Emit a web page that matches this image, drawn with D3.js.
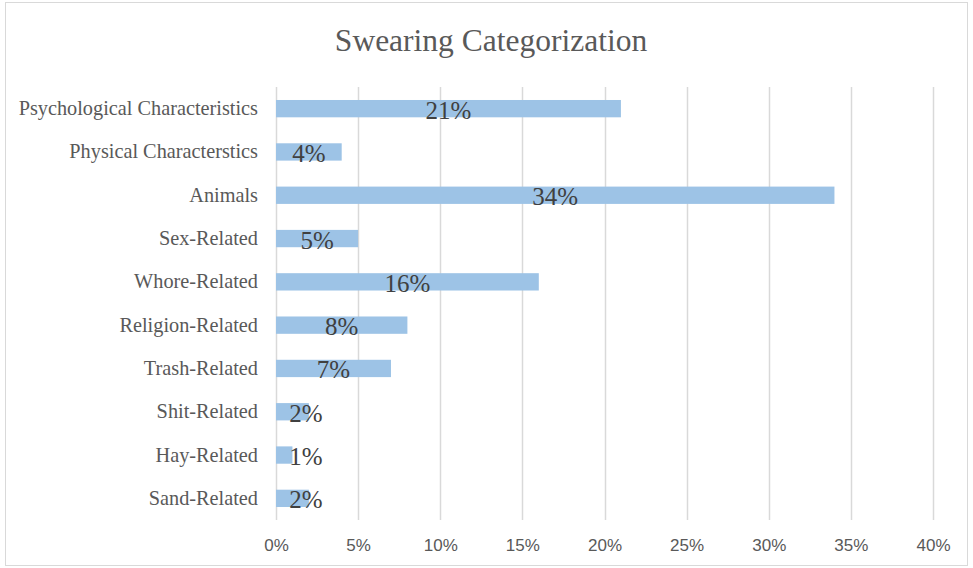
<!DOCTYPE html>
<html>
<head>
<meta charset="utf-8">
<script src="https://cdn.jsdelivr.net/npm/d3@7/dist/d3.min.js"></script>
<style>
    html, body { margin: 0; padding: 0; background: #fff; }
    svg { display: block; }
</style>
</head>
<body>
<div id="chart"></div>
<script>
"use strict";

// chart data, top to bottom as drawn
var categories = [
    "Psychological Characteristics",
    "Physical Characterstics",
    "Animals",
    "Sex-Related",
    "Whore-Related",
    "Religion-Related",
    "Trash-Related",
    "Shit-Related",
    "Hay-Related",
    "Sand-Related"
];
var shares = [0.21, 0.04, 0.34, 0.05, 0.16, 0.08, 0.07, 0.02, 0.01, 0.02];
var tickValues = [0, 0.05, 0.10, 0.15, 0.20, 0.25, 0.30, 0.35, 0.40];
var chartTitle = "Swearing Categorization";

var width = 973;
var height = 568;
var margin = {top: 87, right: 40, bottom: 48, left: 276};
var barColor = "#9dc3e6";
var gridColor = "#d9d9d9";
var textColor = "#595959";
var serif = "'Liberation Serif', 'Times New Roman', serif";

var svg = d3.select("#chart").append("svg")
    .attr("width", width)
    .attr("height", height);

// outer chart border
svg.append("rect")
    .attr("x", 5.5)
    .attr("y", 2.5)
    .attr("width", 962)
    .attr("height", 563)
    .attr("fill", "#fff")
    .attr("stroke", gridColor);

svg.append("text")
    .attr("x", 491)
    .attr("y", 51)
    .attr("text-anchor", "middle")
    .attr("font-family", serif)
    .attr("font-size", 31.5)
    .attr("fill", textColor)
    .text(chartTitle);

var x = d3.scaleLinear()
    .domain([0, 0.40])
    .range([margin.left, margin.left + 657]);

var y = d3.scaleBand()
    .domain(categories)
    .range([margin.top, height - margin.bottom])
    .paddingInner(0.6)
    .paddingOuter(0.3);

// vertical gridlines
svg.append("g")
    .selectAll("line")
    .data(tickValues)
    .join("line")
    .attr("x1", function (d) { return Math.round(x(d)) + 0.5; })
    .attr("x2", function (d) { return Math.round(x(d)) + 0.5; })
    .attr("y1", margin.top)
    .attr("y2", height - margin.bottom)
    .attr("stroke", gridColor)
    .attr("stroke-width", 1.5);

// x axis tick labels
var xAxis = d3.axisBottom(x)
    .tickValues(tickValues)
    .tickFormat(d3.format(".0%"))
    .tickSize(0)
    .tickPadding(0);

var xAxisG = svg.append("g")
    .attr("transform", "translate(0," + (height - margin.bottom + 19) + ")")
    .call(xAxis);
xAxisG.select(".domain").remove();
xAxisG.selectAll("text")
    .attr("font-family", "'Liberation Sans', Arial, sans-serif")
    .attr("font-size", 17)
    .attr("fill", textColor);

// category labels
var yAxis = d3.axisLeft(y)
    .tickSize(0)
    .tickPadding(18);

var yAxisG = svg.append("g")
    .attr("transform", "translate(" + margin.left + ",0)")
    .call(yAxis);
yAxisG.select(".domain").remove();
yAxisG.selectAll("text")
    .attr("font-family", serif)
    .attr("font-size", 20.3)
    .attr("fill", textColor);

var rows = categories.map(function (c, i) {
    return {category: c, value: shares[i]};
});

svg.append("g")
    .selectAll("rect")
    .data(rows)
    .join("rect")
    .attr("x", x(0))
    .attr("y", function (d) { return y(d.category); })
    .attr("width", function (d) { return x(d.value) - x(0); })
    .attr("height", y.bandwidth())
    .attr("fill", barColor);

// data labels, centred in the bar but kept clear of the axis
svg.append("g")
    .selectAll("text")
    .data(rows)
    .join("text")
    .attr("x", function (d) {
        var centre = (x(0) + x(d.value)) / 2;
        return Math.max(centre, x(0) + 30);
    })
    .attr("y", function (d) { return y(d.category) + y.bandwidth() / 2 + 10; })
    .attr("text-anchor", "middle")
    .attr("font-family", serif)
    .attr("font-size", 25)
    .attr("fill", "#404040")
    .text(function (d) { return d3.format(".0%")(d.value); });
</script>
</body>
</html>
